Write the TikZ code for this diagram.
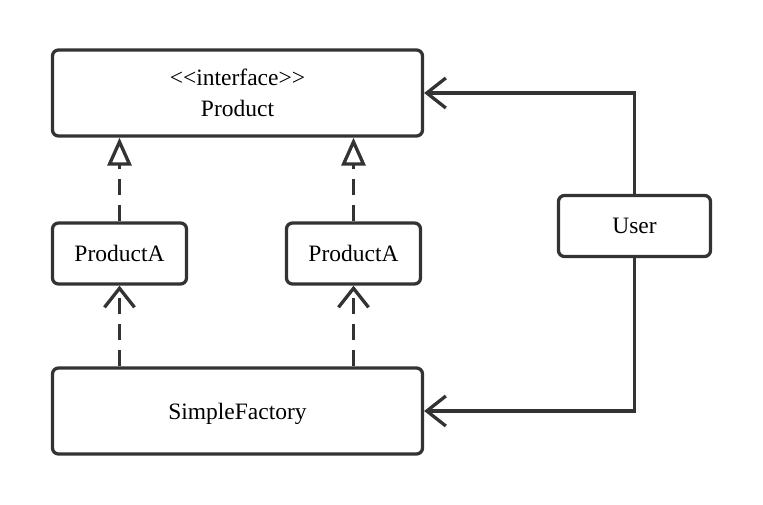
\documentclass[tikz,border=0pt]{standalone}
\usepackage{fontspec}
\setmainfont{Liberation Serif}
\usetikzlibrary{arrows.meta}
\definecolor{ink}{HTML}{333333}
\begin{document}
\begin{tikzpicture}[x=1pt,y=-1pt,
  box/.style={draw=ink,line width=3.3pt,rounded corners=6pt,fill=white,inner sep=0pt,
    align=center,font=\fontsize{23.5}{31}\selectfont,text=black,text depth=-5pt},
  conn/.style={draw=ink,line width=3.3pt},
  dashconn/.style={conn,dash pattern=on 16pt off 10pt},
  openarrow/.style={-{Straight Barb[length=19pt,width=30pt,line width=3.3pt]}},
  realize/.style={-{Triangle[open,length=28pt,width=24pt,line width=3.3pt,fill=white]}}]
\useasboundingbox (0,0) rectangle (763,505);
\node[box,minimum width=370pt,minimum height=86pt] (prod) at (237.5,93)
  {<\kern0pt<interface>\kern0pt>\\Product};
\node[box,minimum width=134pt,minimum height=61pt] (pa1) at (119.5,253.5) {ProductA};
\node[box,minimum width=134pt,minimum height=61pt] (pa2) at (353.5,253.5) {ProductA};
\node[box,minimum width=370pt,minimum height=86pt] (sf) at (237.5,411) {SimpleFactory};
\node[box,minimum width=152pt,minimum height=61pt] (user) at (634.5,226) {User};
\draw[dashconn,realize] (pa1.north) -- (pa1.north |- prod.south);
\draw[dashconn,realize] (pa2.north) -- (pa2.north |- prod.south);
\draw[dashconn,openarrow] (pa1.south |- sf.north) -- (pa1.south);
\draw[dashconn,openarrow] (pa2.south |- sf.north) -- (pa2.south);
\draw[conn,openarrow] (user.north) |- (prod.east);
\draw[conn,openarrow] (user.south) |- (sf.east);
\end{tikzpicture}
\end{document}
